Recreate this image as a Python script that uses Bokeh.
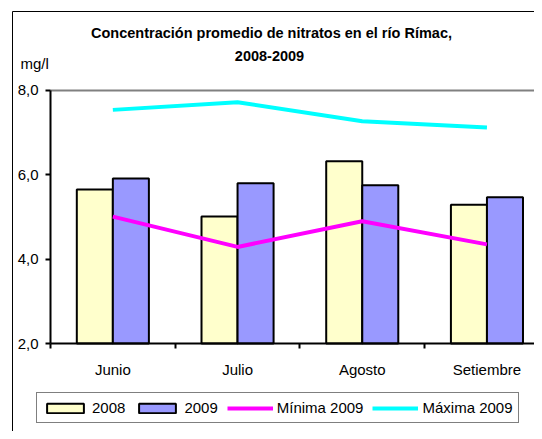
from bokeh.plotting import figure
from bokeh.models import Range1d, FixedTicker, Label, Legend, LegendItem, LinearAxis
from bokeh.embed import file_html
from bokeh.resources import INLINE

# ---- data ----
months = ["Junio", "Julio", "Agosto", "Setiembre"]
v2008 = [5.65, 5.01, 6.32, 5.29]
v2009 = [5.91, 5.80, 5.75, 5.47]
minima_2009 = [5.01, 4.29, 4.90, 4.35]
maxima_2009 = [7.54, 7.72, 7.27, 7.12]
y_ticks = [2, 4, 6, 8]
y_tick_labels = ["2,0", "4,0", "6,0", "8,0"]
title_lines = ["Concentración promedio de nitratos en el río Rímac,", "2008-2009"]
unit_label = "mg/l"

FONT = "Liberation Sans"
Y_MIN, Y_MAX = 2, 8

centers = [i + 0.5 for i in range(len(months))]
bw = 0.289
x2008 = [c - bw / 2 for c in centers]
x2009 = [c + bw / 2 for c in centers]

W, H = 534, 431
PX_X = 124.7          # pixels per category
PX_Y = 42.17          # pixels per unit
FX, FY = 50, 343      # screen position of (0, Y_MIN)


def sx(px):
    return (px - FX) / PX_X


def sy(py):
    return Y_MIN + (FY - py) / PX_Y


p = figure(width=W, height=H, output_backend="svg", toolbar_location=None,
           x_range=Range1d(sx(0), sx(W)), y_range=Range1d(sy(H), sy(0)),
           min_border=0, x_axis_type=None, y_axis_type=None)
p.outline_line_color = None
p.background_fill_color = "white"
p.border_fill_color = "white"
p.grid.visible = False


def plain_axis(loc, bounds, color, width):
    ax = LinearAxis(fixed_location=loc, bounds=bounds, ticker=FixedTicker(ticks=[], minor_ticks=[]),
                    axis_line_color=color, axis_line_width=width,
                    major_tick_line_color=None, minor_tick_line_color=None)
    return ax


# outer chart border (left and top visible, rest cropped)
p.add_layout(plain_axis(sx(11.5), (sy(H + 20), sy(10.5)), "black", 1), "left")
p.add_layout(plain_axis(sy(10.5), (sx(11.5), sx(W + 20)), "black", 1), "above")

r08 = p.vbar(x=x2008, top=v2008, bottom=Y_MIN, width=bw, fill_color="#FFFFCC",
             line_color="black", line_width=2)
r09 = p.vbar(x=x2009, top=v2009, bottom=Y_MIN, width=bw, fill_color="#9999FF",
             line_color="black", line_width=2)
rmin = p.line(centers, minima_2009, line_color="#FF00FF", line_width=4)
rmax = p.line(centers, maxima_2009, line_color="#00FFFF", line_width=4)

# plot-area top border (gray)
p.add_layout(plain_axis(Y_MAX, (0, sx(W + 20)), "#808080", 2), "above")

# x axis
xa = LinearAxis(fixed_location=Y_MIN, bounds=(0, sx(W + 20)))
xa.ticker = FixedTicker(ticks=centers, minor_ticks=list(range(len(months))))
xa.major_label_overrides = {c: m for c, m in zip(centers, months)}
xa.major_tick_out = 0
xa.major_tick_in = 0
xa.minor_tick_out = 5
xa.minor_tick_in = 0
xa.minor_tick_line_width = 2
xa.minor_tick_line_color = "black"
xa.axis_line_width = 2
xa.axis_line_color = "black"
xa.major_label_standoff = 12
xa.major_label_text_font = FONT
xa.major_label_text_font_size = "15px"
xa.major_label_text_color = "black"
p.add_layout(xa, "below")

ya = LinearAxis(fixed_location=0, bounds=(Y_MIN, Y_MAX))
ya.ticker = FixedTicker(ticks=y_ticks, minor_ticks=[])
ya.major_label_overrides = {t: l for t, l in zip(y_ticks, y_tick_labels)}
ya.major_tick_out = 5
ya.major_tick_in = 0
ya.major_tick_line_width = 2
ya.axis_line_width = 2
ya.axis_line_color = "black"
ya.major_label_standoff = 7
ya.major_label_text_font = FONT
ya.major_label_text_font_size = "15px"
ya.major_label_text_color = "black"
p.add_layout(ya, "left")

# titles
p.add_layout(Label(x=sx(271), y=sy(32.5), text=title_lines[0],
                   text_align="center", text_baseline="alphabetic", text_font=FONT,
                   text_font_size="14.5px", text_font_style="bold", text_color="black"))
p.add_layout(Label(x=sx(269), y=sy(55), text=title_lines[1],
                   text_align="center", text_baseline="alphabetic", text_font=FONT,
                   text_font_size="14.5px", text_font_style="bold", text_color="black"))
p.add_layout(Label(x=sx(20), y=sy(63), text=unit_label,
                   text_align="left", text_baseline="alphabetic", text_font=FONT,
                   text_font_size="15px", text_color="black"))

legend = Legend(items=[LegendItem(label="2008", renderers=[r08]),
                       LegendItem(label="2009", renderers=[r09]),
                       LegendItem(label="Mínima 2009", renderers=[rmin]),
                       LegendItem(label="Máxima 2009", renderers=[rmax])],
                orientation="horizontal", location=(36, H - 423),
                glyph_width=46, glyph_height=12, label_standoff=4, spacing=9,
                padding=5, margin=0, label_height=19,
                border_line_color="black", border_line_width=1,
                background_fill_alpha=1, background_fill_color="white",
                label_text_font=FONT, label_text_font_size="15px", label_text_color="black")
p.add_layout(legend, "center")

open("out.html", "w").write(file_html(p, INLINE))
